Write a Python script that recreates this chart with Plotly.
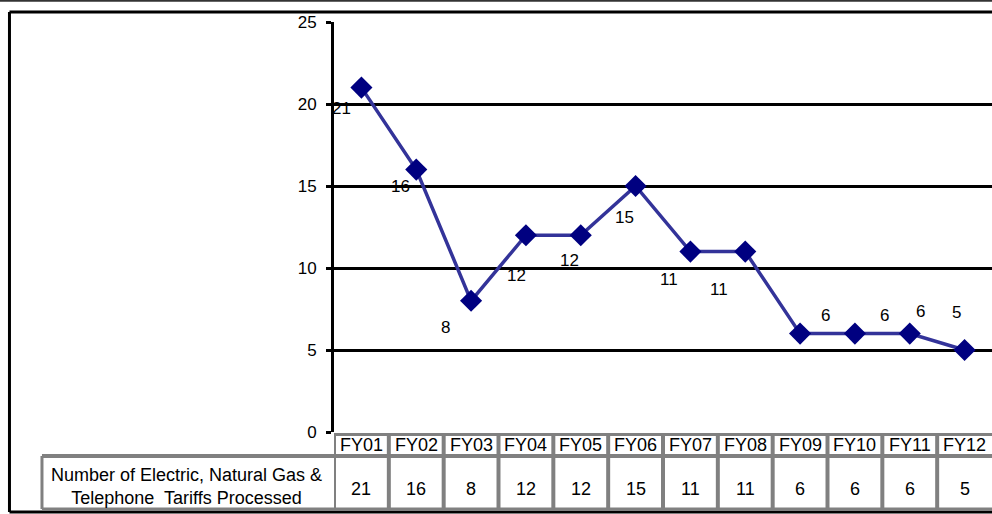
import plotly.graph_objects as go

# ---- data ----
categories = ["FY01", "FY02", "FY03", "FY04", "FY05", "FY06",
              "FY07", "FY08", "FY09", "FY10", "FY11", "FY12"]
tariffs = [21, 16, 8, 12, 12, 15, 11, 11, 6, 6, 6, 5]
series_name = "Number of Electric, Natural Gas &<br>Telephone  Tariffs Processed"
y_ticks = [0, 5, 10, 15, 20, 25]

# label placement offsets (pixels) – style only
label_offsets = [(-20, -21), (-16, -17), (-26, -27), (-9, -40), (-11, -25), (-11, -31),
                 (-21, -28), (-26, -38), (25, 18), (30, 18), (11, 22), (-8, 38)]

FONT = "Liberation Sans, Arial, sans-serif"
GRAY = "#808080"
FS = 17
FT = 18

fig = go.Figure()
fig.add_trace(go.Scatter(
    x=categories, y=tariffs, mode="lines+markers",
    line=dict(color="#333399", width=3.5),
    marker=dict(symbol="diamond", size=17, color="#000080"),
    hoverinfo="skip", showlegend=False,
))

annotations = []
for c, v, (dx, dy) in zip(categories, tariffs, label_offsets):
    annotations.append(dict(x=c, y=v, xref="x", yref="y", text=str(v), showarrow=False,
                            xshift=dx, yshift=dy, font=dict(family=FONT, size=FS, color="black")))

# table texts
for c, v in zip(categories, tariffs):
    annotations.append(dict(x=c, y=-0.0317, xref="x", yref="paper", text=c, showarrow=False,
                            yanchor="middle", font=dict(family=FONT, size=FT, color="black")))
    annotations.append(dict(x=c, y=-0.139, xref="x", yref="paper", text=str(v), showarrow=False,
                            yanchor="middle", font=dict(family=FONT, size=FT, color="black")))
annotations.append(dict(x=-0.2249, y=-0.134, xref="paper", yref="paper", text=series_name,
                        showarrow=False, xanchor="center", yanchor="middle", align="center",
                        font=dict(family=FONT, size=FT, color="black")))

shapes = []
# outer frame
shapes.append(dict(type="line", xref="paper", yref="paper", x0=-0.6, x1=1.01, y0=1.052, y1=1.052,
                   line=dict(color="#333333", width=2)))
shapes.append(dict(type="line", xref="paper", yref="paper", x0=-0.4932, x1=1.01, y0=1.0244, y1=1.0244,
                   line=dict(color="black", width=3)))
shapes.append(dict(type="line", xref="paper", yref="paper", x0=-0.4932, x1=-0.4932, y0=1.0244, y1=-0.195,
                   line=dict(color="black", width=3)))
shapes.append(dict(type="line", xref="paper", yref="paper", x0=-0.4932, x1=1.01, y0=-0.195, y1=-0.195,
                   line=dict(color="black", width=3)))
# table horizontal lines
shapes.append(dict(type="line", xref="paper", yref="paper", x0=0, x1=1.01, y0=-0.006, y1=-0.006,
                   line=dict(color=GRAY, width=3)))
shapes.append(dict(type="line", xref="paper", yref="paper", x0=-0.4438, x1=1.01, y0=-0.0585, y1=-0.0585,
                   line=dict(color=GRAY, width=4)))
shapes.append(dict(type="line", xref="paper", yref="paper", x0=-0.4438, x1=1.01, y0=-0.188, y1=-0.188,
                   line=dict(color=GRAY, width=3)))
# label cell left border
shapes.append(dict(type="line", xref="paper", yref="paper", x0=-0.4438, x1=-0.4438, y0=-0.0585, y1=-0.188,
                   line=dict(color=GRAY, width=3)))
# column dividers
for i in range(len(categories)):
    shapes.append(dict(type="line", xref="x", yref="paper", x0=i - 0.5, x1=i - 0.5, y0=-0.006, y1=-0.188,
                       line=dict(color=GRAY, width=4)))

fig.update_layout(
    width=992, height=514,
    margin=dict(l=334, r=0, t=22, b=82),
    paper_bgcolor="white", plot_bgcolor="white",
    font=dict(family=FONT, size=FS, color="black"),
    xaxis=dict(type="category", range=[-0.5, 11.5], showticklabels=False, showgrid=False,
               zeroline=False, showline=False, ticks=""),
    yaxis=dict(range=[0, 25], tickvals=y_ticks, showgrid=True, gridcolor="black", gridwidth=3,
               zeroline=False, showline=True, linecolor="black", linewidth=3,
               ticks="outside", ticklen=5, tickwidth=3, tickcolor="black",
               ticklabelstandoff=6,
               tickfont=dict(family=FONT, size=FS, color="black")),
    annotations=annotations, shapes=shapes,
)

fig.write_html("out.html")
